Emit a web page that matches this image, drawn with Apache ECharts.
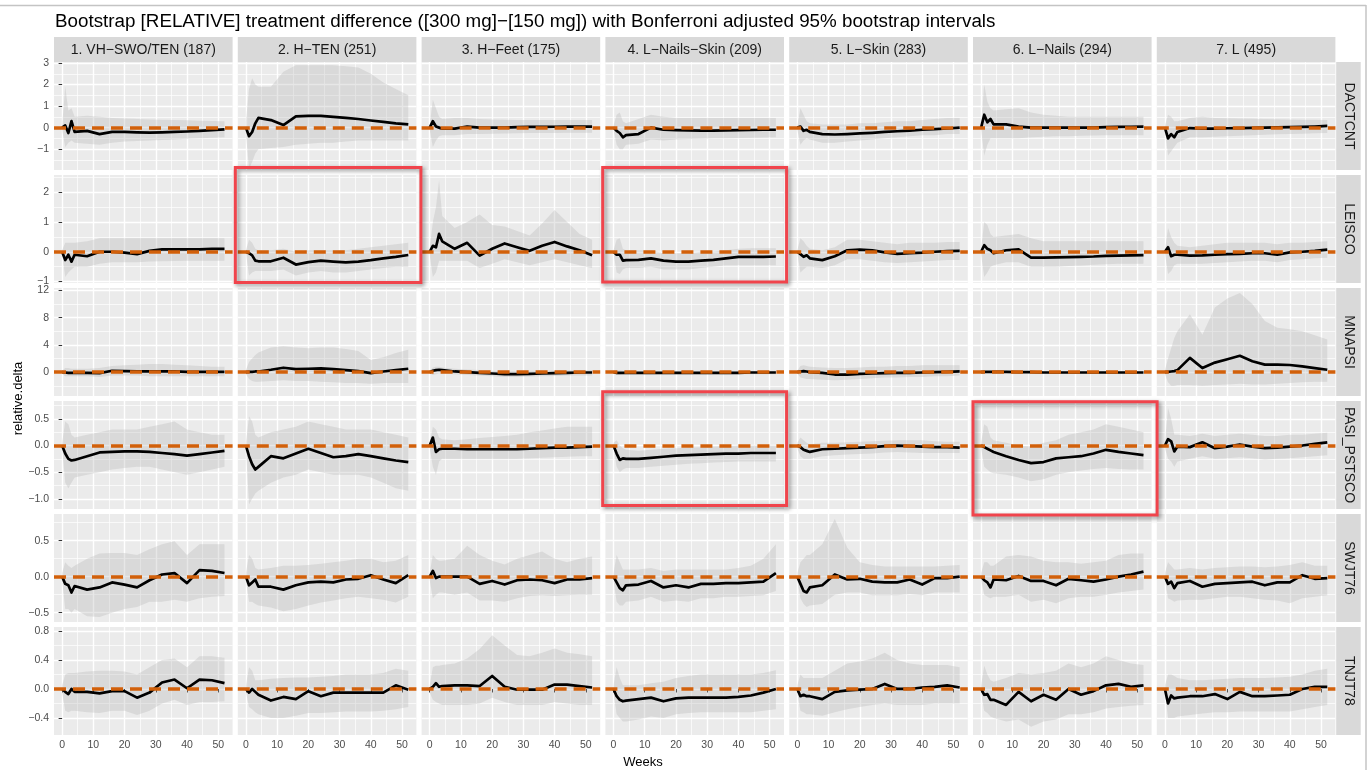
<!DOCTYPE html>
<html><head><meta charset="utf-8">
<script src="https://cdn.jsdelivr.net/npm/echarts@6/dist/echarts.min.js"></script>
<style>html,body{margin:0;padding:0;background:#fff}#c{width:1368px;height:770px}</style>
</head><body><div id="c"></div>
<script>
// ---------------- data ----------------
const weeks = [0,1,2,3,4,8,12,16,20,24,28,32,36,40,44,48,52];
const colTitles = ['1. VH\u2212SWO/TEN (187)','2. H\u2212TEN (251)','3. H\u2212Feet (175)','4. L\u2212Nails\u2212Skin (209)','5. L\u2212Skin (283)','6. L\u2212Nails (294)','7. L (495)'];
const rowTitles = ['DACTCNT','LEISCO','MNAPSI','PASI_PSTSCO','SWJT76','TNJT78'];
const xLimits = [-2.6, 54.6];
const xBreaks = [0,10,20,30,40,50];
const xMinorBreaks = [5,15,25,35,45];
const yLimits = [[-1.97,3.05],[-1.05,2.58],[-3.5,12.35],[-1.19,0.835],[-0.63,0.87],[-0.635,0.855]];
const yBreaks = [[-1,0,1,2,3],[-1,0,1,2],[0,4,8,12],[-1,-0.5,0,0.5],[-0.5,0,0.5],[-0.4,0,0.4,0.8]];
const yMinorBreaks = [[-1.5,-0.5,0.5,1.5,2.5],[-0.5,0.5,1.5,2.5],[-2,2,6,10],[-0.75,-0.25,0.25,0.75],[-0.25,0.25,0.75],[-0.2,0.2,0.6]];
const yDigits = [0,0,0,1,1,1];

const DACTCNT_mean = [
 [0,0.1,-0.25,0.3,-0.2,-0.15,-0.3,-0.2,-0.2,-0.22,-0.23,-0.22,-0.2,-0.18,-0.15,-0.12,-0.08],
 [0,-0.4,-0.2,0.2,0.45,0.35,0.12,0.52,0.55,0.55,0.5,0.45,0.4,0.33,0.27,0.2,0.15],
 [0,0.3,0.05,0.0,-0.05,-0.05,0.05,0.0,0.0,0.0,0.02,0.03,0.03,0.04,0.05,0.05,0.05],
 [0,-0.15,-0.25,-0.45,-0.35,-0.3,0.0,-0.1,-0.12,-0.13,-0.14,-0.14,-0.13,-0.12,-0.11,-0.1,-0.1],
 [0,0.05,-0.15,-0.1,-0.2,-0.3,-0.32,-0.3,-0.27,-0.24,-0.2,-0.17,-0.14,-0.1,-0.07,-0.04,0.0],
 [0,0.6,0.25,0.4,0.15,0.15,0.05,0.0,0.0,0.0,0.0,0.0,0.0,0.02,0.03,0.04,0.05],
 [0,-0.5,-0.3,-0.45,-0.2,-0.02,-0.05,-0.05,-0.03,-0.02,-0.01,0.0,0.01,0.02,0.03,0.05,0.08]];
const DACTCNT_lo = [
 [-0.1,-0.9,-0.7,-0.6,-0.7,-0.75,-0.8,-0.7,-0.65,-0.62,-0.6,-0.58,-0.55,-0.52,-0.5,-0.47,-0.45],
 [-0.3,-1.9,-1.6,-1.2,-1.0,-0.95,-0.9,-0.8,-0.75,-0.7,-0.7,-0.65,-0.6,-0.6,-0.6,-0.6,-0.6],
 [-0.1,-0.9,-0.6,-0.4,-0.35,-0.35,-0.3,-0.3,-0.28,-0.27,-0.26,-0.25,-0.25,-0.25,-0.24,-0.24,-0.24],
 [-0.1,-0.8,-1.0,-1.0,-0.8,-0.75,-0.55,-0.6,-0.55,-0.53,-0.52,-0.5,-0.5,-0.48,-0.47,-0.46,-0.45],
 [-0.1,-0.8,-0.6,-0.5,-0.55,-0.7,-0.7,-0.65,-0.6,-0.55,-0.5,-0.45,-0.4,-0.35,-0.35,-0.3,-0.3],
 [-0.1,-1.3,-0.8,-0.5,-0.5,-0.5,-0.5,-0.45,-0.42,-0.4,-0.4,-0.38,-0.37,-0.36,-0.35,-0.35,-0.35],
 [-0.1,-1.3,-1.1,-0.9,-0.7,-0.45,-0.45,-0.42,-0.4,-0.38,-0.35,-0.33,-0.31,-0.3,-0.28,-0.26,-0.25]];
const DACTCNT_hi = [
 [0.1,1.9,0.8,0.9,0.5,0.55,0.5,0.45,0.42,0.4,0.38,0.37,0.35,0.34,0.32,0.31,0.3],
 [0.3,1.8,2.3,2.0,1.9,1.9,2.6,2.9,2.9,2.9,2.9,2.85,2.8,2.5,2.1,1.8,1.5],
 [0.1,1.3,0.9,0.5,0.4,0.45,0.45,0.4,0.38,0.36,0.35,0.35,0.35,0.35,0.35,0.35,0.35],
 [0.1,0.6,0.7,0.3,0.2,0.4,0.6,0.5,0.45,0.45,0.45,0.45,0.45,0.45,0.45,0.45,0.45],
 [0.1,0.9,0.6,0.3,0.2,0.15,0.15,0.15,0.2,0.2,0.25,0.3,0.3,0.35,0.4,0.45,0.45],
 [0.1,2.0,1.2,0.9,0.8,0.85,0.9,0.7,0.6,0.55,0.5,0.5,0.5,0.5,0.5,0.5,0.5],
 [0.1,0.6,0.5,0.3,0.3,0.45,0.5,0.45,0.43,0.42,0.41,0.4,0.39,0.38,0.37,0.36,0.35]];

const LEISCO_mean = [
 [0,-0.28,-0.1,-0.33,-0.1,-0.15,0.0,0.0,-0.03,-0.08,0.03,0.08,0.08,0.08,0.08,0.1,0.1],
 [0,-0.05,-0.12,-0.3,-0.32,-0.32,-0.2,-0.43,-0.35,-0.3,-0.33,-0.36,-0.33,-0.28,-0.22,-0.17,-0.11],
 [0,0.2,0.15,0.6,0.35,0.1,0.3,-0.13,0.1,0.28,0.15,0.03,0.2,0.33,0.18,0.05,-0.12],
 [0,-0.1,-0.1,-0.3,-0.28,-0.27,-0.22,-0.3,-0.33,-0.33,-0.3,-0.27,-0.22,-0.17,-0.17,-0.17,-0.16],
 [0,-0.08,-0.17,-0.12,-0.22,-0.28,-0.15,0.05,0.07,0.05,-0.02,-0.07,-0.05,-0.03,0.0,0.02,0.03],
 [0,0.22,0.1,0.05,-0.05,0.05,0.08,-0.2,-0.2,-0.19,-0.18,-0.17,-0.16,-0.14,-0.13,-0.12,-0.11],
 [0,0.15,-0.15,-0.1,-0.1,-0.13,-0.12,-0.1,-0.08,-0.07,-0.05,-0.05,-0.1,-0.02,0.0,0.03,0.07]];
const LEISCO_lo = [
 [-0.05,-0.85,-0.7,-0.6,-0.5,-0.5,-0.4,-0.35,-0.35,-0.35,-0.33,-0.32,-0.31,-0.3,-0.3,-0.3,-0.3],
 [-0.05,-0.8,-0.7,-0.65,-0.65,-0.65,-0.6,-0.8,-0.7,-0.65,-0.7,-0.7,-0.65,-0.6,-0.55,-0.5,-0.5],
 [-0.1,-0.85,-0.7,-0.3,-0.3,-0.3,-0.3,-0.55,-0.4,-0.25,-0.35,-0.45,-0.35,-0.25,-0.35,-0.45,-0.55],
 [-0.05,-0.7,-0.75,-0.6,-0.55,-0.55,-0.5,-0.6,-0.6,-0.6,-0.55,-0.5,-0.45,-0.45,-0.45,-0.45,-0.45],
 [-0.05,-0.7,-0.6,-0.5,-0.5,-0.55,-0.45,-0.25,-0.25,-0.3,-0.35,-0.38,-0.35,-0.33,-0.3,-0.28,-0.28],
 [-0.1,-0.85,-0.7,-0.5,-0.45,-0.35,-0.35,-0.5,-0.5,-0.5,-0.48,-0.46,-0.44,-0.42,-0.4,-0.4,-0.4],
 [-0.05,-0.75,-0.65,-0.45,-0.4,-0.4,-0.4,-0.38,-0.35,-0.33,-0.3,-0.3,-0.35,-0.28,-0.25,-0.22,-0.2]];
const LEISCO_hi = [
 [0.05,0.3,0.3,0.3,0.3,0.35,0.45,0.45,0.45,0.45,0.45,0.45,0.45,0.45,0.45,0.45,0.45],
 [0.05,0.4,0.3,0.1,0.05,0.05,0.1,0.0,0.05,0.05,0.05,0.05,0.1,0.15,0.2,0.25,0.3],
 [0.1,1.0,1.5,2.4,1.2,0.8,1.0,1.25,0.9,0.85,0.7,0.55,0.95,1.4,1.0,0.6,0.4],
 [0.05,0.4,0.45,0.1,0.05,0.05,0.05,-0.05,-0.05,-0.05,0.0,0.0,0.05,0.1,0.12,0.12,0.12],
 [0.05,0.45,0.35,0.2,0.1,0.05,0.15,0.4,0.4,0.35,0.3,0.25,0.3,0.3,0.3,0.33,0.33],
 [0.1,1.0,0.9,0.6,0.5,0.55,0.6,0.45,0.35,0.35,0.35,0.35,0.35,0.35,0.35,0.35,0.35],
 [0.05,0.8,0.5,0.3,0.2,0.15,0.2,0.25,0.3,0.3,0.3,0.3,0.25,0.3,0.3,0.33,0.35]];

const MNAPSI_mean = [
 [0,-0.05,-0.1,-0.1,-0.1,-0.1,-0.15,0.2,0.15,0.1,0.1,0.1,0.1,0.05,0.05,0.05,0.05],
 [0,0.05,0.05,0.1,0.1,0.35,0.65,0.45,0.5,0.55,0.45,0.3,0.15,-0.15,0.1,0.3,0.5],
 [0,0.2,0.3,0.35,0.3,0.1,0.0,-0.1,-0.2,-0.3,-0.3,-0.25,-0.2,-0.15,-0.1,-0.05,-0.05],
 [0,-0.1,-0.1,-0.1,-0.1,-0.1,-0.1,-0.1,-0.1,-0.1,-0.1,-0.1,-0.1,-0.1,-0.05,-0.05,-0.05],
 [0,0.1,0.15,0.1,0.0,-0.1,-0.35,-0.35,-0.25,-0.2,-0.15,-0.12,-0.1,-0.05,0.0,0.05,0.1],
 [0,0.05,0.05,0.05,0.05,0.05,0.0,0.0,-0.05,-0.05,-0.05,-0.05,-0.05,-0.05,-0.05,-0.05,-0.05],
 [0,0.05,0.1,0.15,0.3,2.1,0.6,1.4,1.9,2.4,1.6,1.1,1.1,1.05,0.85,0.6,0.35]];
const MNAPSI_lo = [
 [-0.2,-0.6,-0.6,-0.6,-0.6,-0.6,-0.7,-0.5,-0.5,-0.5,-0.6,-0.6,-0.6,-0.6,-0.6,-0.6,-0.6],
 [-0.3,-1.0,-1.3,-1.4,-1.4,-1.3,-1.2,-1.3,-1.3,-1.4,-1.5,-1.6,-1.6,-1.7,-1.6,-1.6,-1.6],
 [-0.2,-0.4,-0.3,-0.2,-0.2,-0.3,-0.4,-0.5,-0.6,-0.7,-0.7,-0.65,-0.6,-0.55,-0.5,-0.5,-0.5],
 [-0.1,-0.4,-0.4,-0.35,-0.3,-0.3,-0.3,-0.3,-0.3,-0.3,-0.3,-0.3,-0.3,-0.3,-0.3,-0.3,-0.3],
 [-0.2,-0.8,-0.9,-1.0,-1.0,-1.1,-1.2,-1.1,-1.0,-0.9,-0.8,-0.8,-0.7,-0.7,-0.6,-0.6,-0.5],
 [-0.1,-0.2,-0.2,-0.2,-0.2,-0.2,-0.15,-0.15,-0.2,-0.2,-0.2,-0.2,-0.2,-0.2,-0.2,-0.2,-0.2],
 [-0.3,-1.5,-2.0,-2.0,-1.9,-1.9,-2.0,-1.9,-1.8,-1.7,-1.8,-1.8,-1.7,-1.6,-1.5,-1.4,-1.4]];
const MNAPSI_hi = [
 [0.2,0.6,0.6,0.5,0.5,0.5,0.6,0.9,1.0,1.1,1.2,1.2,1.1,1.0,0.9,0.8,0.8],
 [0.3,1.5,2.0,2.5,2.9,3.6,3.8,3.6,3.5,3.6,3.6,3.4,3.1,1.8,2.2,2.8,3.3],
 [0.2,0.7,0.8,0.8,0.7,0.5,0.4,0.3,0.2,0.15,0.15,0.2,0.2,0.25,0.3,0.3,0.3],
 [0.1,0.3,0.3,0.25,0.2,0.2,0.2,0.2,0.2,0.2,0.2,0.2,0.2,0.2,0.2,0.2,0.2],
 [0.2,0.9,1.0,0.9,0.8,0.7,0.6,0.6,0.7,0.8,0.8,0.9,0.9,1.0,1.0,1.0,1.0],
 [0.1,0.2,0.2,0.2,0.2,0.2,0.15,0.15,0.15,0.15,0.15,0.15,0.15,0.15,0.15,0.15,0.15],
 [0.3,2.0,3.5,5.0,6.0,8.5,5.5,9.5,10.8,11.6,10.0,7.5,6.5,6.3,6.0,5.4,4.8]];

const PASI_PSTSCO_mean = [
 [0,-0.15,-0.25,-0.28,-0.27,-0.2,-0.13,-0.12,-0.11,-0.11,-0.12,-0.14,-0.16,-0.19,-0.16,-0.13,-0.1],
 [0,-0.2,-0.35,-0.45,-0.4,-0.2,-0.24,-0.15,-0.06,-0.14,-0.22,-0.2,-0.16,-0.2,-0.24,-0.28,-0.31],
 [0,0.15,-0.12,-0.07,-0.06,-0.06,-0.07,-0.07,-0.07,-0.07,-0.07,-0.06,-0.05,-0.04,-0.04,-0.03,-0.02],
 [0,-0.15,-0.27,-0.24,-0.25,-0.25,-0.23,-0.21,-0.19,-0.18,-0.17,-0.16,-0.15,-0.15,-0.14,-0.14,-0.14],
 [0,-0.03,-0.08,-0.1,-0.12,-0.07,-0.06,-0.05,-0.04,-0.03,-0.01,0.0,-0.01,-0.02,-0.03,-0.03,-0.04],
 [0,-0.03,-0.06,-0.09,-0.12,-0.2,-0.27,-0.33,-0.31,-0.24,-0.22,-0.2,-0.15,-0.08,-0.12,-0.15,-0.18],
 [0,0.12,0.08,-0.11,-0.02,-0.03,0.06,-0.05,-0.02,0.02,-0.02,-0.05,-0.04,-0.02,0.0,0.03,0.06]];
const PASI_PSTSCO_lo = [
 [-0.05,-0.7,-0.8,-0.7,-0.6,-0.55,-0.5,-0.45,-0.42,-0.4,-0.4,-0.45,-0.5,-0.55,-0.5,-0.45,-0.4],
 [-0.05,-1.1,-1.0,-0.9,-0.85,-0.7,-0.6,-0.55,-0.45,-0.5,-0.55,-0.55,-0.55,-0.6,-0.7,-0.8,-0.85],
 [-0.05,-0.4,-0.55,-0.3,-0.25,-0.25,-0.25,-0.25,-0.25,-0.25,-0.25,-0.24,-0.23,-0.22,-0.21,-0.2,-0.2],
 [-0.05,-0.4,-0.5,-0.45,-0.42,-0.42,-0.4,-0.38,-0.36,-0.34,-0.33,-0.32,-0.31,-0.3,-0.3,-0.3,-0.3],
 [-0.05,-0.2,-0.25,-0.25,-0.25,-0.2,-0.18,-0.17,-0.16,-0.15,-0.13,-0.12,-0.13,-0.14,-0.14,-0.14,-0.14],
 [-0.05,-0.4,-0.45,-0.5,-0.52,-0.55,-0.6,-0.67,-0.63,-0.55,-0.5,-0.47,-0.44,-0.42,-0.44,-0.45,-0.45],
 [-0.05,-0.25,-0.3,-0.4,-0.3,-0.25,-0.2,-0.25,-0.24,-0.22,-0.24,-0.26,-0.25,-0.24,-0.22,-0.2,-0.18]];
const PASI_PSTSCO_hi = [
 [0.05,0.45,0.4,0.2,0.15,0.2,0.25,0.3,0.3,0.3,0.35,0.4,0.45,0.3,0.25,0.2,0.2],
 [0.05,0.55,0.45,0.2,0.15,0.25,0.3,0.35,0.45,0.4,0.35,0.3,0.3,0.3,0.25,0.2,0.15],
 [0.05,0.35,0.3,0.15,0.12,0.1,0.12,0.14,0.16,0.18,0.2,0.25,0.28,0.32,0.35,0.35,0.35],
 [0.05,0.1,0.0,-0.05,-0.08,-0.1,-0.08,-0.06,-0.05,-0.04,-0.03,-0.02,-0.01,0.0,0.0,0.0,0.0],
 [0.05,0.15,0.1,0.05,0.02,0.05,0.05,0.06,0.07,0.08,0.09,0.1,0.1,0.1,0.08,0.07,0.07],
 [0.05,0.4,0.35,0.15,0.1,0.05,0.0,-0.02,0.05,0.1,0.2,0.25,0.3,0.4,0.35,0.3,0.25],
 [0.05,0.7,0.5,0.2,0.2,0.18,0.22,0.18,0.2,0.22,0.2,0.18,0.18,0.2,0.2,0.22,0.24]];

const SWJT76_mean = [
 [0,-0.1,-0.12,-0.22,-0.13,-0.18,-0.15,-0.08,-0.11,-0.15,-0.05,0.03,0.05,-0.09,0.09,0.08,0.05],
 [0,-0.12,-0.08,-0.04,-0.14,-0.14,-0.18,-0.12,-0.08,-0.07,-0.08,-0.04,-0.03,0.02,-0.04,-0.09,0.02],
 [0,0.08,-0.02,0.0,0.0,0.0,0.0,-0.1,-0.06,-0.11,-0.05,-0.04,-0.05,-0.09,-0.04,-0.04,-0.02],
 [0,-0.08,-0.16,-0.19,-0.12,-0.11,-0.06,-0.15,-0.12,-0.15,-0.1,-0.1,-0.09,-0.09,-0.08,-0.07,0.05],
 [0,-0.1,-0.2,-0.22,-0.15,-0.12,0.03,-0.04,-0.03,-0.07,-0.08,-0.08,-0.04,-0.11,-0.02,-0.02,0.0],
 [0,-0.05,-0.08,-0.15,-0.04,-0.05,0.01,-0.06,-0.06,-0.12,-0.03,-0.05,-0.07,-0.04,0.0,0.03,0.07],
 [0,-0.1,-0.07,-0.16,-0.09,-0.06,-0.14,-0.1,-0.09,-0.08,-0.07,-0.12,-0.08,-0.08,0.02,-0.03,-0.02]];
const SWJT76_lo = [
 [-0.05,-0.45,-0.45,-0.5,-0.45,-0.55,-0.56,-0.5,-0.45,-0.42,-0.35,-0.35,-0.32,-0.35,-0.3,-0.28,-0.27],
 [-0.05,-0.35,-0.35,-0.38,-0.4,-0.43,-0.48,-0.45,-0.4,-0.36,-0.33,-0.3,-0.28,-0.3,-0.32,-0.36,-0.28],
 [-0.05,-0.3,-0.25,-0.22,-0.22,-0.25,-0.22,-0.33,-0.33,-0.35,-0.3,-0.27,-0.26,-0.27,-0.26,-0.25,-0.25],
 [-0.05,-0.35,-0.4,-0.4,-0.35,-0.33,-0.28,-0.35,-0.33,-0.35,-0.3,-0.3,-0.28,-0.28,-0.27,-0.26,-0.2],
 [-0.05,-0.3,-0.38,-0.42,-0.4,-0.38,-0.25,-0.22,-0.22,-0.26,-0.26,-0.26,-0.24,-0.26,-0.22,-0.22,-0.22],
 [-0.05,-0.25,-0.28,-0.3,-0.28,-0.28,-0.25,-0.35,-0.32,-0.37,-0.3,-0.28,-0.28,-0.25,-0.22,-0.2,-0.18],
 [-0.05,-0.3,-0.32,-0.35,-0.33,-0.32,-0.32,-0.3,-0.28,-0.28,-0.3,-0.32,-0.33,-0.37,-0.3,-0.28,-0.26]];
const SWJT76_hi = [
 [0.05,0.2,0.15,0.12,0.15,0.25,0.32,0.33,0.33,0.3,0.38,0.45,0.49,0.3,0.45,0.45,0.45],
 [0.05,0.3,0.25,0.12,0.1,0.12,0.15,0.15,0.16,0.18,0.2,0.22,0.25,0.25,0.2,0.22,0.3],
 [0.05,0.3,0.25,0.22,0.22,0.25,0.43,0.3,0.22,0.17,0.25,0.3,0.35,0.25,0.2,0.25,0.28],
 [0.05,0.3,0.2,0.1,0.1,0.1,0.12,0.08,0.1,0.1,0.1,0.1,0.1,0.12,0.15,0.25,0.45],
 [0.05,0.2,0.25,0.3,0.3,0.45,0.8,0.4,0.2,0.16,0.14,0.14,0.14,0.14,0.14,0.15,0.16],
 [0.05,0.2,0.2,0.15,0.15,0.28,0.3,0.28,0.22,0.2,0.2,0.18,0.2,0.22,0.3,0.32,0.32],
 [0.05,0.2,0.15,0.1,0.1,0.12,0.1,0.12,0.13,0.14,0.14,0.13,0.14,0.16,0.2,0.15,0.15]];

const TNJT78_mean = [
 [0,-0.04,-0.07,0.0,-0.04,-0.04,-0.06,-0.03,-0.03,-0.12,-0.05,0.09,0.13,0.01,0.13,0.12,0.08],
 [0,-0.05,0.0,-0.04,-0.08,-0.16,-0.11,-0.14,-0.03,-0.1,-0.05,-0.05,-0.05,-0.05,-0.05,0.05,-0.01],
 [0,0.03,0.08,0.03,0.04,0.05,0.05,0.04,0.18,0.03,-0.01,-0.01,-0.01,0.06,0.06,0.04,0.02],
 [0,-0.1,-0.15,-0.17,-0.16,-0.14,-0.12,-0.17,-0.13,-0.12,-0.12,-0.12,-0.12,-0.11,-0.09,-0.05,0.0],
 [0,-0.1,-0.08,-0.1,-0.1,-0.14,-0.04,-0.02,-0.01,0.0,0.07,0.0,0.0,0.02,0.03,0.05,0.02],
 [0,-0.08,-0.07,-0.15,-0.15,-0.22,-0.04,-0.17,-0.08,-0.15,0.0,-0.08,-0.03,0.05,0.07,0.03,0.05],
 [0,-0.2,-0.09,-0.13,-0.12,-0.1,-0.1,-0.07,-0.14,-0.04,-0.1,-0.1,-0.09,-0.08,0.0,0.03,0.03]];
const TNJT78_lo = [
 [-0.05,-0.3,-0.32,-0.3,-0.3,-0.32,-0.33,-0.3,-0.3,-0.36,-0.3,-0.2,-0.15,-0.22,-0.18,-0.18,-0.17],
 [-0.05,-0.25,-0.28,-0.32,-0.35,-0.4,-0.4,-0.37,-0.33,-0.33,-0.32,-0.31,-0.31,-0.31,-0.3,-0.28,-0.25],
 [-0.05,-0.15,-0.18,-0.2,-0.22,-0.22,-0.22,-0.2,-0.12,-0.18,-0.22,-0.22,-0.22,-0.18,-0.2,-0.22,-0.22],
 [-0.05,-0.35,-0.4,-0.45,-0.45,-0.42,-0.38,-0.4,-0.35,-0.33,-0.32,-0.32,-0.32,-0.32,-0.32,-0.3,-0.28],
 [-0.05,-0.3,-0.32,-0.35,-0.35,-0.37,-0.32,-0.28,-0.25,-0.22,-0.2,-0.22,-0.22,-0.22,-0.2,-0.2,-0.2],
 [-0.05,-0.3,-0.33,-0.38,-0.4,-0.45,-0.42,-0.52,-0.45,-0.42,-0.35,-0.35,-0.32,-0.27,-0.25,-0.23,-0.22],
 [-0.05,-0.4,-0.4,-0.4,-0.38,-0.36,-0.34,-0.32,-0.32,-0.31,-0.31,-0.31,-0.31,-0.31,-0.28,-0.25,-0.22]];
const TNJT78_hi = [
 [0.05,0.2,0.22,0.22,0.22,0.24,0.25,0.25,0.24,0.2,0.3,0.4,0.42,0.3,0.45,0.45,0.43],
 [0.05,0.3,0.25,0.12,0.12,0.14,0.15,0.16,0.16,0.17,0.18,0.2,0.2,0.2,0.22,0.28,0.25],
 [0.05,0.3,0.32,0.32,0.33,0.35,0.42,0.55,0.74,0.6,0.47,0.45,0.5,0.56,0.5,0.48,0.45],
 [0.05,0.3,0.15,0.05,0.05,0.05,0.08,0.1,0.15,0.18,0.2,0.2,0.2,0.2,0.2,0.22,0.26],
 [0.05,0.2,0.15,0.15,0.15,0.15,0.25,0.35,0.38,0.42,0.5,0.4,0.35,0.33,0.33,0.33,0.3],
 [0.05,0.32,0.2,0.12,0.1,0.15,0.22,0.2,0.22,0.25,0.35,0.3,0.35,0.45,0.4,0.35,0.33],
 [0.05,0.2,0.2,0.18,0.15,0.12,0.12,0.13,0.14,0.15,0.15,0.15,0.16,0.17,0.2,0.25,0.28]];

const meanRows = [DACTCNT_mean, LEISCO_mean, MNAPSI_mean, PASI_PSTSCO_mean, SWJT76_mean, TNJT78_mean];
const loRows = [DACTCNT_lo, LEISCO_lo, MNAPSI_lo, PASI_PSTSCO_lo, SWJT76_lo, TNJT78_lo];
const hiRows = [DACTCNT_hi, LEISCO_hi, MNAPSI_hi, PASI_PSTSCO_hi, SWJT76_hi, TNJT78_hi];

// ---------------- layout / style ----------------
const FONT = '"Liberation Sans", Arial, sans-serif';
const L0 = 54, CW = 178.6, CS = 183.8, T0 = 62, RH = 108, RS = 113;
const gl = c => L0 + c * CS;
const gt = r => T0 + r * RS;
const PANEL = '#EBEBEB', STRIP = '#D9D9D9', RIBBON = 'rgba(175,175,175,0.3)', ORANGE = '#D2600A', RED = '#F0444C';

function fmt(v, d) { return Number(v).toFixed(d).replace('-', '\u2212'); }

function ribbonRenderer(lo, hi) {
  return function (params, api) {
    if (params.dataIndex !== 0) return null;
    const pts = [];
    for (let k = 0; k < weeks.length; k++) pts.push(api.coord([weeks[k], hi[k]]));
    for (let k = weeks.length - 1; k >= 0; k--) pts.push(api.coord([weeks[k], lo[k]]));
    return { type: 'polygon', shape: { points: pts }, style: { fill: RIBBON }, silent: true };
  };
}

const grids = [], xAxes = [], yAxes = [], series = [];
for (let r = 0; r < 6; r++) {
  for (let c = 0; c < 7; c++) {
    const i = r * 7 + c;
    const bottom = r === 5, left = c === 0;
    grids.push({ left: gl(c), top: gt(r), width: CW, height: RH, show: true, backgroundColor: PANEL, borderWidth: 0, containLabel: false, outerBoundsMode: 'none' });
    xAxes.push({ gridIndex: i, type: 'value', min: xLimits[0], max: xLimits[1], position: 'bottom',
      axisLine: { show: false },
      axisTick: { show: bottom, customValues: xBreaks, length: 3.5, lineStyle: { color: '#333', width: 1 } },
      axisLabel: { show: bottom, customValues: xBreaks, color: '#4D4D4D', fontSize: 10.5, fontFamily: FONT, margin: 5 },
      splitLine: { show: true, lineStyle: { color: '#fff', width: 1.4 } } });
    xAxes.push({ gridIndex: i, type: 'value', min: xLimits[0], max: xLimits[1], position: 'top',
      axisLine: { show: false },
      axisTick: { show: false, customValues: xMinorBreaks },
      axisLabel: { show: false, customValues: xMinorBreaks },
      splitLine: { show: true, lineStyle: { color: '#fff', width: 0.7 } } });
    yAxes.push({ gridIndex: i, type: 'value', min: yLimits[r][0], max: yLimits[r][1], position: 'left',
      axisLine: { show: false },
      axisTick: { show: left, customValues: yBreaks[r], length: 3.5, lineStyle: { color: '#333', width: 1 } },
      axisLabel: { show: left, customValues: yBreaks[r], color: '#4D4D4D', fontSize: 10.5, fontFamily: FONT, margin: 5,
        formatter: (v) => fmt(v, yDigits[r]) },
      splitLine: { show: true, lineStyle: { color: '#fff', width: 1.4 } } });
    yAxes.push({ gridIndex: i, type: 'value', min: yLimits[r][0], max: yLimits[r][1], position: 'right',
      axisLine: { show: false },
      axisTick: { show: false, customValues: yMinorBreaks[r] },
      axisLabel: { show: false, customValues: yMinorBreaks[r] },
      splitLine: { show: true, lineStyle: { color: '#fff', width: 0.7 } } });

    const lo = loRows[r][c], hi = hiRows[r][c], m = meanRows[r][c];
    series.push({ type: 'custom', xAxisIndex: 2 * i, yAxisIndex: 2 * i, silent: true, z: 1,
      data: weeks.map((w, k) => [w, lo[k], hi[k]]), encode: { x: 0, y: [1, 2] },
      renderItem: ribbonRenderer(lo, hi) });
    series.push({ type: 'line', xAxisIndex: 2 * i, yAxisIndex: 2 * i, silent: true, z: 3,
      data: weeks.map((w, k) => [w, m[k]]), symbol: 'none', showSymbol: false,
      lineStyle: { color: '#000', width: 2.7, join: 'round' },
      markLine: { silent: true, symbol: ['none', 'none'], label: { show: false }, animation: false,
        lineStyle: { color: ORANGE, width: 3.6, type: [12, 7], opacity: 1 },
        emphasis: { disabled: true }, data: [{ yAxis: 0 }] } });
  }
}

const graphic = [];
// outer frame lines
graphic.push({ type: 'line', shape: { x1: 0, y1: 5.5, x2: 1366, y2: 5.5 }, style: { stroke: '#C4C4C4', lineWidth: 1.5 }, silent: true });
graphic.push({ type: 'line', shape: { x1: 1366, y1: 5, x2: 1366, y2: 770 }, style: { stroke: '#C4C4C4', lineWidth: 1.5 }, silent: true });
// title
graphic.push({ type: 'text', x: 55, y: 21.5, silent: true,
  style: { text: 'Bootstrap [RELATIVE] treatment difference ([300 mg]\u2212[150 mg]) with Bonferroni adjusted 95% bootstrap intervals',
    fill: '#000', font: '18.8px ' + FONT, align: 'left', verticalAlign: 'middle' } });
// column strips
colTitles.forEach((t, c) => {
  graphic.push({ type: 'rect', shape: { x: gl(c), y: 37, width: CW, height: 25 }, style: { fill: STRIP }, silent: true });
  graphic.push({ type: 'text', x: gl(c) + CW / 2, y: 50, silent: true,
    style: { text: t, fill: '#1A1A1A', font: '14px ' + FONT, align: 'center', verticalAlign: 'middle' } });
});
// row strips
const stripX = gl(6) + CW + 0.8;
rowTitles.forEach((t, r) => {
  graphic.push({ type: 'rect', shape: { x: stripX, y: gt(r), width: 24.5, height: RH }, style: { fill: STRIP }, silent: true });
  graphic.push({ type: 'text', x: stripX + 12.5, y: gt(r) + RH / 2, rotation: -Math.PI / 2, silent: true,
    style: { text: t, fill: '#1A1A1A', font: '14px ' + FONT, align: 'center', verticalAlign: 'middle' } });
});
// axis titles
graphic.push({ type: 'text', x: 643, y: 762, silent: true,
  style: { text: 'Weeks', fill: '#000', font: '13px ' + FONT, align: 'center', verticalAlign: 'middle' } });
graphic.push({ type: 'text', x: 18, y: gt(0) + (gt(5) + RH - gt(0)) / 2, rotation: Math.PI / 2, silent: true,
  style: { text: 'relative.delta', fill: '#000', font: '13px ' + FONT, align: 'center', verticalAlign: 'middle' } });
// red highlight boxes (annotations around panels)
const boxes = [
  [gl(1) - 2.5, gt(1) - 7.5, gl(1) + CW + 4.5, gt(1) + RH - 0.5],
  [gl(3) - 2.7, gt(1) - 7.5, gl(3) + CW + 2.6, gt(1) + RH - 1],
  [gl(3) - 2.7, gt(3) - 9.3, gl(3) + CW + 2.6, gt(3) + RH - 3.5],
  [gl(5), gt(3) + 0.7, gl(5) + CW + 5.5, gt(3) + RH + 6]
];
boxes.forEach(b => {
  graphic.push({ type: 'rect', z: 100, silent: true,
    shape: { x: b[0], y: b[1], width: b[2] - b[0], height: b[3] - b[1] },
    style: { fill: 'none', stroke: RED, lineWidth: 3, shadowBlur: 4, shadowColor: 'rgba(0,0,0,0.45)', shadowOffsetX: 2, shadowOffsetY: 2 } });
});

const chart = echarts.init(document.getElementById('c'), null, { renderer: 'canvas', width: 1368, height: 770 });
chart.setOption({
  animation: false,
  backgroundColor: '#fff',
  textStyle: { fontFamily: FONT },
  grid: grids, xAxis: xAxes, yAxis: yAxes, series: series, graphic: graphic
});
</script></body></html>
